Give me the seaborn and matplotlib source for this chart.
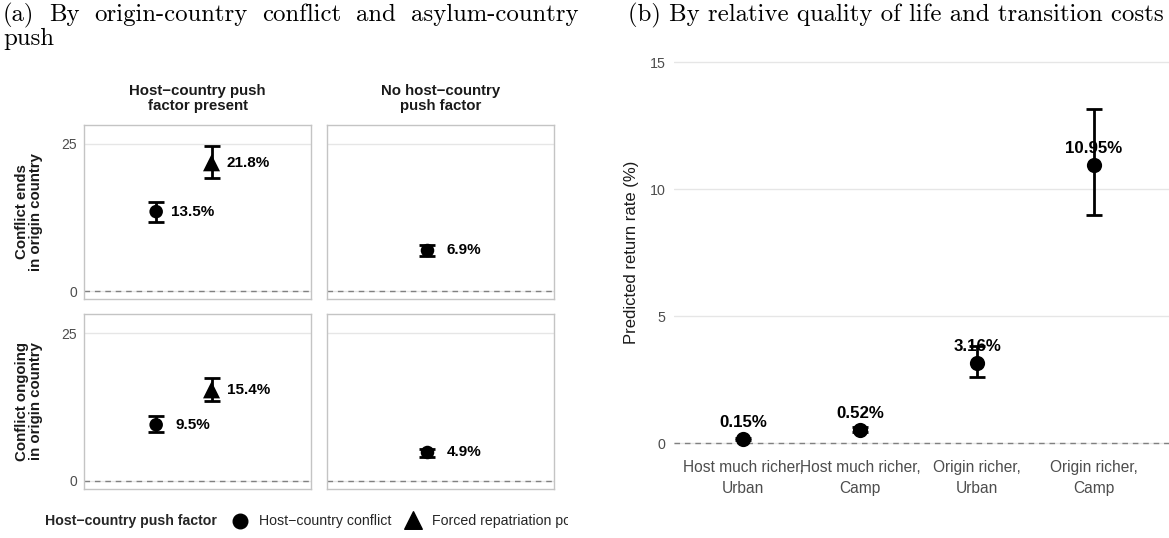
import numpy as np
import pandas as pd
import matplotlib
matplotlib.use("Agg")
import matplotlib.pyplot as plt
import seaborn as sns

W, H, DPI = 1169, 538, 100

# ---------------- panel (a): origin-country conflict x host-country push
push_levels = ["Host\u2212country push\nfactor present", "No host\u2212country\npush factor"]
conflict_levels = ["Conflict ends\nin origin country", "Conflict ongoing\nin origin country"]
push_kinds = ["Host\u2212country conflict", "Forced repatriation policy"]

a_col = [0, 0, 1, 0, 0, 1]
a_row = [0, 0, 0, 1, 1, 1]
a_kind = ["conflict", "repatriation", "none", "conflict", "repatriation", "none"]
a_est = [13.5, 21.8, 6.9, 9.5, 15.4, 4.9]
a_lo = [11.8, 19.2, 6.0, 8.3, 13.6, 4.0]
a_hi = [15.2, 24.6, 7.8, 10.9, 17.4, 5.4]
a_yticks = [0, 25]

# ---------------- panel (b): relative quality of life and transition costs
b_cat = ["Host much richer,\nUrban", "Host much richer,\nCamp",
         "Origin richer,\nUrban", "Origin richer,\nCamp"]
b_est = [0.15, 0.52, 3.16, 10.95]
b_lo = [0.10, 0.42, 2.60, 8.99]
b_hi = [0.20, 0.64, 3.84, 13.18]
b_yticks = [0, 5, 10, 15]

sns.set_theme(style="white")
plt.rcParams["font.family"] = ["Liberation Sans", "DejaVu Sans"]

GRID = "#E6E6E6"
BORDER = "#C4C4C4"
TICK = "#4D4D4D"
ZERO = "#808080"

fig = plt.figure(figsize=(W / DPI, H / DPI), dpi=DPI)


def px_axes(x0, y0, x1, y1):
    return fig.add_axes([x0 / W, 1 - y1 / H, (x1 - x0) / W, (y1 - y0) / H])


def fx(x):
    return x / W


def fy(y):
    return 1 - y / H


df_a = pd.DataFrame(dict(col=a_col, row=a_row, kind=a_kind,
                         est=a_est, lo=a_lo, hi=a_hi))
dodge = {"conflict": -0.15, "repatriation": 0.15, "none": 0.0}
df_a["x"] = df_a["kind"].map(dodge)
marker_map = {"conflict": "o", "repatriation": "^", "none": "o"}
size_map = {"conflict": 95, "repatriation": 150, "none": 95}

col_px = [(84, 311), (327, 554)]
row_px = [(125, 299), (314, 489)]

for r, (y0, y1) in enumerate(row_px):
    for c, (x0, x1) in enumerate(col_px):
        ax = px_axes(x0, y0, x1, y1)
        sub = df_a[(df_a["row"] == r) & (df_a["col"] == c)]
        ax.set_xlim(-0.541, 0.689)
        ax.set_ylim(-1.36, 28.23)
        ax.set_yticks(a_yticks)
        ax.set_xticks([])
        ax.grid(axis="y", color=GRID, lw=1.0, zorder=0)
        ax.grid(axis="x", visible=False)
        ax.axhline(0, color=ZERO, lw=1.0, ls=(0, (4, 3.5)), zorder=1)
        ax.errorbar(sub["x"], sub["est"],
                    yerr=[sub["est"] - sub["lo"], sub["hi"] - sub["est"]],
                    fmt="none", ecolor="black", elinewidth=2.0,
                    capsize=5.8, capthick=2.0, zorder=2)
        sns.scatterplot(data=sub, x="x", y="est", style="kind",
                        markers=marker_map, size="kind", sizes=size_map,
                        color="black", edgecolor="black", linewidth=0,
                        legend=False, ax=ax, zorder=3)
        for _, p in sub.iterrows():
            ax.text(p["x"] + 0.2, p["est"], f"{p['est']:.1f}%",
                    ha="center", va="center", fontsize=11,
                    fontweight="bold", color="black")
        ax.set_xlabel("")
        ax.set_ylabel("")
        for s in ax.spines.values():
            s.set_visible(True)
            s.set_color(BORDER)
            s.set_linewidth(1.0)
        ax.tick_params(axis="y", length=0, pad=5, labelsize=10,
                       labelcolor=TICK)
        if c == 1:
            ax.tick_params(axis="y", labelleft=False)

# facet strip titles
for c, (x0, x1) in enumerate(col_px):
    fig.text(fx((x0 + x1) / 2), fy(98.5), push_levels[c], ha="center",
             va="center", fontsize=10.8, fontweight="bold",
             linespacing=1.05, color="#1A1A1A")
for r, (y0, y1) in enumerate(row_px):
    fig.text(fx(29), fy((y0 + y1) / 2), conflict_levels[r], ha="center",
             va="center", rotation=90, fontsize=10.8, fontweight="bold",
             linespacing=1.05, color="#1A1A1A")

# legend row for panel (a), clipped at the panel's right edge
lg = px_axes(0, 505, 568, 538)
lg.set_xlim(0, 568)
lg.set_ylim(538, 505)
lg.axis("off")
ly = 521
lg.text(45, ly, "Host\u2212country push factor", ha="left", va="center",
        fontsize=10.2, fontweight="bold", clip_on=True)
lg.scatter([240], [ly], marker="o", s=110, color="black", clip_on=True)
lg.text(259, ly, push_kinds[0], ha="left", va="center", fontsize=10.2,
        clip_on=True)
lg.scatter([413], [ly - 1], marker="^", s=160, color="black", clip_on=True)
lg.text(432, ly, push_kinds[1], ha="left", va="center", fontsize=10.2,
        clip_on=True)

# ---------------- panel (b)
axb = px_axes(674, 49.8, 1169, 455.7)
df_b = pd.DataFrame(dict(cat=b_cat, est=b_est, lo=b_lo, hi=b_hi))
xb = np.arange(len(b_cat))
axb.set_xlim(-0.59, 3.64)
axb.set_ylim(-0.5, 15.5)
axb.set_yticks(b_yticks)
axb.grid(axis="y", color=GRID, lw=1.0, zorder=0)
axb.grid(axis="x", visible=False)
axb.axhline(0, color=ZERO, lw=1.0, ls=(0, (4, 3.5)), zorder=1)
axb.errorbar(xb, df_b["est"],
             yerr=[df_b["est"] - df_b["lo"], df_b["hi"] - df_b["est"]],
             fmt="none", ecolor="black", elinewidth=2.0, capsize=6,
             capthick=2.0, zorder=2)
sns.scatterplot(x=xb, y=df_b["est"], color="black", s=120, linewidth=0,
                legend=False, ax=axb, zorder=3)
for xi, v in zip(xb, b_est):
    axb.text(xi, v + 0.65, f"{v:.2f}%", ha="center", va="center",
             fontsize=12.2, fontweight="bold", color="black")
axb.set_xticks(xb)
axb.set_xticklabels(b_cat, linespacing=1.55)
axb.set_xlabel("")
axb.set_ylabel("Predicted return rate (%)", fontsize=12, color="#1A1A1A",
               labelpad=8)
for s in axb.spines.values():
    s.set_visible(False)
axb.tick_params(axis="y", length=0, pad=6, labelsize=10.3, labelcolor=TICK)
axb.tick_params(axis="x", length=0, pad=3, labelsize=11.2, labelcolor=TICK)

# ---------------- sub-captions in a serif face
renderer = fig.canvas.get_renderer()
cap_b = "(b) By relative quality of life and transition costs"
probe = fig.text(0, 0, cap_b, fontsize=10, family="cmr10")
size = 10 * 534 / probe.get_window_extent(renderer).width
probe.remove()
fig.text(fx(628), fy(21), cap_b, fontsize=size, family="cmr10",
         va="baseline", ha="left", color="black")


def justified_line(words, x0, x1, y, fs):
    arts = [fig.text(0, fy(y), w, fontsize=fs, family="cmr10",
                     va="baseline", ha="left", color="black") for w in words]
    widths = [a.get_window_extent(renderer).width for a in arts]
    gap = (x1 - x0 - sum(widths)) / (len(words) - 1)
    pos = x0
    for a, w in zip(arts, widths):
        a.set_x(fx(pos))
        pos += w + gap


justified_line("(a) By origin-country conflict and asylum-country".split(),
               3, 578, 21, size)
fig.text(fx(3), fy(45), "push", fontsize=size, family="cmr10",
         va="baseline", ha="left", color="black")

fig.savefig("out.png", dpi=DPI)
